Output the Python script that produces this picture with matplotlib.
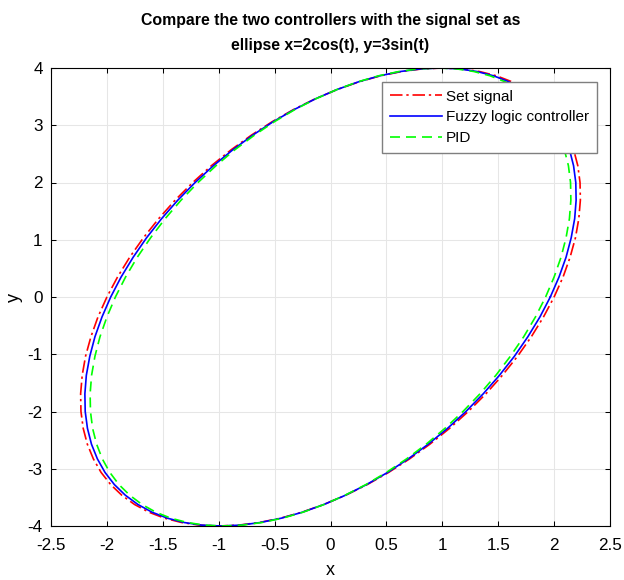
import matplotlib
matplotlib.use("Agg")
import matplotlib.pyplot as plt

plt.rcParams['font.family'] = ['Liberation Sans', 'DejaVu Sans']

# Set signal
set_x = [2.000, 2.080, 2.143, 2.191, 2.221, 2.235, 2.232, 2.212, 2.175, 2.121, 2.052, 1.966,
         1.866, 1.752, 1.624, 1.484, 1.332, 1.171, 1.000, 0.822, 0.638, 0.448, 0.256, 0.061,
         -0.134, -0.328, -0.520, -0.707, -0.889, -1.065, -1.232, -1.390, -1.537, -1.673, -1.796, -1.905,
         -2.000, -2.080, -2.143, -2.191, -2.221, -2.235, -2.232, -2.212, -2.175, -2.121, -2.052, -1.966,
         -1.866, -1.752, -1.624, -1.484, -1.332, -1.171, -1.000, -0.822, -0.638, -0.448, -0.256, -0.061,
         0.134, 0.328, 0.520, 0.707, 0.889, 1.065, 1.232, 1.390, 1.537, 1.673, 1.796, 1.905, 2.000]
set_y = [0.000, 0.349, 0.695, 1.035, 1.368, 1.691, 2.000, 2.294, 2.571, 2.828, 3.064, 3.277,
         3.464, 3.625, 3.759, 3.864, 3.939, 3.985, 4.000, 3.985, 3.939, 3.864, 3.759, 3.625,
         3.464, 3.277, 3.064, 2.828, 2.571, 2.294, 2.000, 1.691, 1.368, 1.035, 0.695, 0.349,
         0.000, -0.349, -0.695, -1.035, -1.368, -1.691, -2.000, -2.294, -2.571, -2.828, -3.064, -3.277,
         -3.464, -3.625, -3.759, -3.864, -3.939, -3.985, -4.000, -3.985, -3.939, -3.864, -3.759, -3.625,
         -3.464, -3.277, -3.064, -2.828, -2.571, -2.294, -2.000, -1.691, -1.368, -1.035, -0.695, -0.349, 0.000]

# Fuzzy logic controller output
fuzzy_x = [1.966, 2.044, 2.107, 2.153, 2.184, 2.197, 2.194, 2.174, 2.138, 2.085, 2.017, 1.933,
           1.834, 1.722, 1.596, 1.458, 1.309, 1.151, 0.983, 0.808, 0.627, 0.441, 0.251, 0.060,
           -0.132, -0.322, -0.511, -0.695, -0.874, -1.047, -1.211, -1.366, -1.511, -1.645, -1.765, -1.873,
           -1.966, -2.044, -2.107, -2.153, -2.184, -2.197, -2.194, -2.174, -2.138, -2.085, -2.017, -1.933,
           -1.834, -1.722, -1.596, -1.458, -1.309, -1.151, -0.983, -0.808, -0.627, -0.441, -0.251, -0.060,
           0.132, 0.322, 0.511, 0.695, 0.874, 1.047, 1.211, 1.366, 1.511, 1.645, 1.765, 1.873, 1.966]
fuzzy_y = [0.000, 0.349, 0.695, 1.035, 1.368, 1.691, 2.000, 2.294, 2.571, 2.828, 3.064, 3.277,
           3.464, 3.625, 3.759, 3.864, 3.939, 3.985, 4.000, 3.985, 3.939, 3.864, 3.759, 3.625,
           3.464, 3.277, 3.064, 2.828, 2.571, 2.294, 2.000, 1.691, 1.368, 1.035, 0.695, 0.349,
           0.000, -0.349, -0.695, -1.035, -1.368, -1.691, -2.000, -2.294, -2.571, -2.828, -3.064, -3.277,
           -3.464, -3.625, -3.759, -3.864, -3.939, -3.985, -4.000, -3.985, -3.939, -3.864, -3.759, -3.625,
           -3.464, -3.277, -3.064, -2.828, -2.571, -2.294, -2.000, -1.691, -1.368, -1.035, -0.695, -0.349, 0.000]

# PID controller output
pid_x = [1.924, 2.000, 2.062, 2.107, 2.137, 2.150, 2.147, 2.128, 2.092, 2.041, 1.974, 1.892,
         1.795, 1.685, 1.562, 1.427, 1.281, 1.126, 0.962, 0.791, 0.613, 0.431, 0.246, 0.059,
         -0.129, -0.316, -0.500, -0.680, -0.856, -1.024, -1.185, -1.337, -1.479, -1.609, -1.728, -1.833,
         -1.924, -2.000, -2.062, -2.107, -2.137, -2.150, -2.147, -2.128, -2.092, -2.041, -1.974, -1.892,
         -1.795, -1.685, -1.562, -1.427, -1.281, -1.126, -0.962, -0.791, -0.613, -0.431, -0.246, -0.059,
         0.129, 0.316, 0.500, 0.680, 0.856, 1.024, 1.185, 1.337, 1.479, 1.609, 1.728, 1.833, 1.924]
pid_y = [0.000, 0.349, 0.695, 1.035, 1.368, 1.691, 2.000, 2.294, 2.571, 2.828, 3.064, 3.277,
         3.464, 3.625, 3.759, 3.864, 3.939, 3.985, 4.000, 3.985, 3.939, 3.864, 3.759, 3.625,
         3.464, 3.277, 3.064, 2.828, 2.571, 2.294, 2.000, 1.691, 1.368, 1.035, 0.695, 0.349,
         0.000, -0.349, -0.695, -1.035, -1.368, -1.691, -2.000, -2.294, -2.571, -2.828, -3.064, -3.277,
         -3.464, -3.625, -3.759, -3.864, -3.939, -3.985, -4.000, -3.985, -3.939, -3.864, -3.759, -3.625,
         -3.464, -3.277, -3.064, -2.828, -2.571, -2.294, -2.000, -1.691, -1.368, -1.035, -0.695, -0.349, 0.000]

x_ticks = [-2.5, -2, -1.5, -1, -0.5, 0, 0.5, 1, 1.5, 2, 2.5]
x_tick_labels = ['-2.5', '-2', '-1.5', '-1', '-0.5', '0', '0.5', '1', '1.5', '2', '2.5']
y_ticks = [-4, -3, -2, -1, 0, 1, 2, 3, 4]
y_tick_labels = ['-4', '-3', '-2', '-1', '0', '1', '2', '3', '4']

fig = plt.figure(figsize=(6.24, 5.80), dpi=100)
ax = fig.add_axes([51/624, 54/580, 559/624, 458/580])

lw = 1.2
ax.plot(set_x, set_y, color=(1, 0, 0), lw=lw, linestyle=(0, (7.5, 2.3, 1.4, 2.3)), label='Set signal')
ax.plot(fuzzy_x, fuzzy_y, color=(0, 0, 1), lw=lw, linestyle='-', label='Fuzzy logic controller')
ax.plot(pid_x, pid_y, color=(0, 1, 0), lw=lw, linestyle=(0, (6, 3.6)), label='PID')

ax.set_xlim(-2.5, 2.5)
ax.set_ylim(-4, 4)
ax.set_xticks(x_ticks)
ax.set_xticklabels(x_tick_labels)
ax.set_yticks(y_ticks)
ax.set_yticklabels(y_tick_labels)
ax.tick_params(direction='in', length=3.6, width=0.75, top=True, right=True, labelsize=12.3)
ax.tick_params(axis='x', pad=9)
ax.tick_params(axis='y', pad=6)
ax.grid(True, color='#e6e6e6', lw=0.75)
ax.set_axisbelow(True)
for s in ax.spines.values():
    s.set_linewidth(0.8)

ax.set_xlabel('x', fontsize=13, labelpad=6)
ax.set_ylabel('y', fontsize=13, labelpad=3)
ax.set_title('Compare the two controllers with the signal set as\nellipse x=2cos(t), y=3sin(t)',
             fontsize=11.4, fontweight='bold', pad=13, linespacing=1.82)

leg = ax.legend(loc='upper right', bbox_to_anchor=(546/559, 444/458), borderaxespad=0,
                fontsize=11, handlelength=3.4, handletextpad=0.3, labelspacing=0.44,
                borderpad=0.5, fancybox=False, framealpha=1, edgecolor='#7f7f7f')
leg.get_frame().set_linewidth(1.0)

fig.savefig('out.png', dpi=100)
